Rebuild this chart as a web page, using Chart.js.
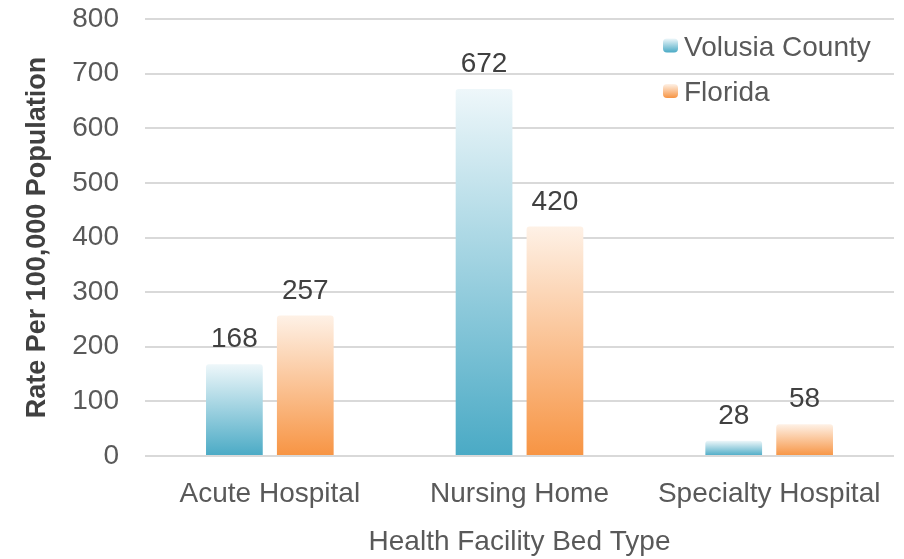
<!DOCTYPE html>
<html><head><meta charset="utf-8">
<script src="https://cdn.jsdelivr.net/npm/chart.js@4.4.1/dist/chart.umd.min.js"></script>
<style>html,body{margin:0;padding:0;background:#fff}#wrap{width:904px;height:559px}</style>
</head><body><div id="wrap"><canvas id="c" width="904" height="559"></canvas></div>
<script>
const categories = ["Acute Hospital", "Nursing Home", "Specialty Hospital"];
const volusia = [168, 672, 28];
const florida = [257, 420, 58];
const seriesNames = ["Volusia County", "Florida"];
const yTicks = [0, 100, 200, 300, 400, 500, 600, 700, 800];

const FONT = "'Liberation Sans', Arial, sans-serif";
const palettes = [
  {top: "#eef7fa", bottom: "#4aaac5", solid: "#4bacc6"},
  {top: "#fef1e6", bottom: "#f79443", solid: "#f79646"}
];

function gradFor(ctx, di) {
  const chart = ctx.chart;
  const ys = chart.scales.y;
  if (!ys || !chart.chartArea) return palettes[di].solid;
  const v = ctx.raw;
  const top = ys.getPixelForValue(v), base = ys.getPixelForValue(0);
  if (!isFinite(top) || !isFinite(base) || top === base) return palettes[di].solid;
  const g = chart.ctx.createLinearGradient(0, top, 0, base);
  g.addColorStop(0, palettes[di].top);
  g.addColorStop(1, palettes[di].bottom);
  return g;
}

const labelPlugin = {
  id: 'vals',
  afterDatasetsDraw(chart) {
    const c = chart.ctx;
    c.save();
    c.font = "28px " + FONT;
    c.fillStyle = "#404040";
    c.textAlign = "center";
    c.textBaseline = "alphabetic";
    chart.data.datasets.forEach((ds, i) => {
      chart.getDatasetMeta(i).data.forEach((bar, j) => {
        c.fillText(String(ds.data[j]), bar.x, bar.y - 17);
      });
    });
    c.restore();
  }
};

const legendPlugin = {
  id: 'customLegend',
  afterDraw(chart) {
    const c = chart.ctx;
    c.save();
    c.font = "28px " + FONT;
    c.textBaseline = "alphabetic";
    const x0 = 663;
    const ys = [45.5, 91];
    chart.data.datasets.forEach((ds, i) => {
      const y = ys[i];
      const g = c.createLinearGradient(0, y - 7, 0, y + 7);
      g.addColorStop(0, palettes[i].top);
      g.addColorStop(1, palettes[i].bottom);
      c.fillStyle = g;
      c.beginPath();
      if (c.roundRect) c.roundRect(x0, y - 7, 15, 14, 4); else c.rect(x0, y - 7, 15, 14);
      c.fill();
      c.fillStyle = "#595959";
      c.fillText(ds.label, x0 + 21, y + 10);
    });
    c.restore();
  }
};

const chart = new Chart(document.getElementById('c'), {
  type: 'bar',
  data: {
    labels: categories,
    datasets: [
      {label: seriesNames[0], data: volusia, backgroundColor: (ctx) => gradFor(ctx, 0), borderRadius: 3, borderSkipped: 'bottom'},
      {label: seriesNames[1], data: florida, backgroundColor: (ctx) => gradFor(ctx, 1), borderRadius: 3, borderSkipped: 'bottom'}
    ]
  },
  options: {
    responsive: false,
    animation: false,
    devicePixelRatio: 1,
    layout: {padding: {top: 19, right: 10, left: 21, bottom: 0}},
    datasets: {bar: {categoryPercentage: 0.568, barPercentage: 0.80}},
    plugins: {legend: {display: false}, tooltip: {enabled: false}},
    scales: {
      x: {
        afterFit(s) { s.height = 103; },
        grid: {display: false},
        border: {display: false},
        ticks: {color: "#595959", font: {family: FONT, size: 28}, padding: 13, maxRotation: 0, autoSkip: false},
        title: {display: true, text: "Health Facility Bed Type", color: "#595959", font: {family: FONT, size: 28}, padding: {top: 0, bottom: 0}}
      },
      y: {
        min: 0, max: 800,
        afterFit(s) { s.width = 124; s.paddingTop = 0; s.paddingBottom = 0; },
        afterBuildTicks(axis) { axis.ticks = yTicks.map(v => ({value: v})); },
        grid: {color: "#d9d9d9", lineWidth: 2, drawTicks: false},
        border: {display: false},
        ticks: {color: "#595959", font: {family: FONT, size: 28}, padding: 26},
        title: {display: true, text: "Rate Per 100,000 Population", color: "#404040", font: {family: FONT, size: 27, weight: 'bold'}, padding: {top: 0, bottom: 18}}
      }
    }
  },
  plugins: [labelPlugin, legendPlugin]
});
</script></body></html>
